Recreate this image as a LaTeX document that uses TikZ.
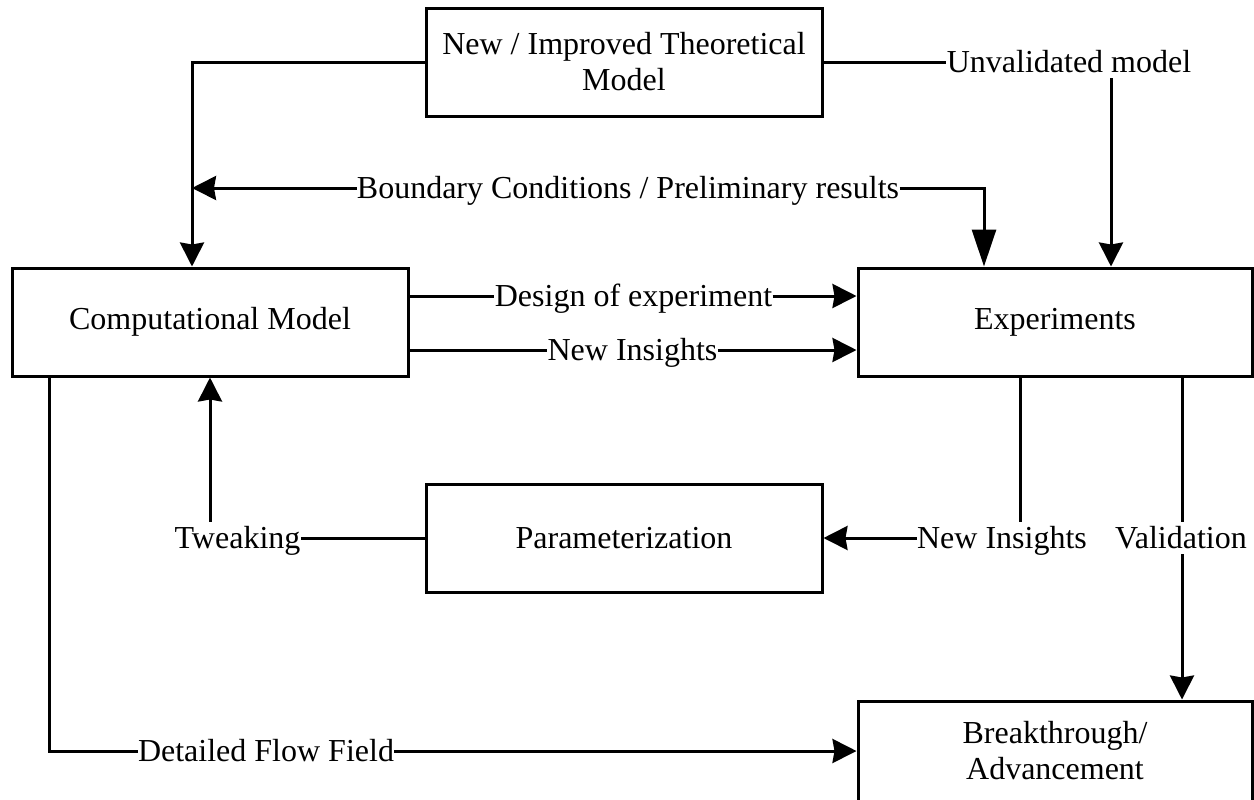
\documentclass[tikz,border=0pt]{standalone}
\usepackage{fontspec}
\setmainfont{Liberation Serif}
\usetikzlibrary{arrows.meta}
\begin{document}
\begin{tikzpicture}[x=0.5pt,y=-0.5pt,
  every node/.style={font=\fontsize{16}{18}\selectfont},
  box/.style={draw, line width=1.5pt, inner sep=0pt, align=center, minimum width=#1, minimum height=54pt},
  lbl/.style={inner sep=0pt, text height=13pt, text depth=3pt},
  conn/.style={line width=1.5pt},
  arr/.style={conn, -{Stealth[length=12pt,width=12pt,inset=1pt]}},
  bigarr/.style={conn, -{Triangle[length=18.5pt,width=12pt]}}
]
\useasboundingbox (0,0) rectangle (1254,799);
% boxes
\node[box=198pt] (theo) at (624,62) {New / Improved Theoretical\\Model};
\node[box=198pt] (comp) at (210,322) {Computational Model};
\node[box=197pt] (exp) at (1055,322) {Experiments};
\node[box=198pt] (param) at (624,538) {Parameterization};
\node[box=197pt, minimum height=50pt] (brk) at (1055,751) {Breakthrough/\\Advancement};
% labels
\node[lbl] (bc) at (628,188) {Boundary Conditions / Preliminary results};
\node[lbl] (uv) at (1069,62) {Unvalidated model};
\node[lbl] (doe) at (633.5,296) {Design of experiment};
\node[lbl] (ni1) at (632.5,350) {New Insights};
\node[lbl] (ni2) at (1002,538) {New Insights};
\node[lbl] (val) at (1181,538) {Validation};
\node[lbl] (tw) at (237.5,538) {Tweaking};
\node[lbl] (dff) at (266,751) {Detailed Flow Field};
% helper coordinates
\coordinate (c1) at ([xshift=-9pt]comp.north);
\coordinate (c2) at ([xshift=-35.5pt]exp.north);
\coordinate (c4) at ([xshift=28pt]exp.north);
\coordinate (e1) at ([xshift=-17.5pt]exp.south);
\coordinate (e2) at ([xshift=63.5pt]exp.south);
\coordinate (c3) at ([xshift=-80.5pt]comp.south);
% connectors
\draw[arr] (theo.west) -| (c1);
\draw[arr] (bc.west) -- (bc.west -| c1);
\draw[bigarr] (bc.east) -| (c2);
\draw[conn] (theo.east) -- (uv.west);
\draw[arr] (uv.south -| c4) -- (c4);
\draw[conn] (comp.east |- doe.west) -- (doe.west);
\draw[arr] (doe.east) -- (exp.west |- doe.east);
\draw[conn] (comp.east |- ni1.west) -- (ni1.west);
\draw[arr] (ni1.east) -- (exp.west |- ni1.east);
\draw[conn] (e1) -- (e1 |- ni2.north);
\draw[arr] (ni2.west) -- (param.east);
\draw[conn] (e2) -- (e2 |- val.north);
\draw[arr] (e2 |- val.south) -- (e2 |- brk.north);
\draw[conn] (tw.east) -- (param.west);
\draw[arr] (comp.south |- tw.north) -- (comp.south);
\draw[conn] (c3) |- (dff.west);
\draw[arr] (dff.east) -- (brk.west);
\end{tikzpicture}
\end{document}
